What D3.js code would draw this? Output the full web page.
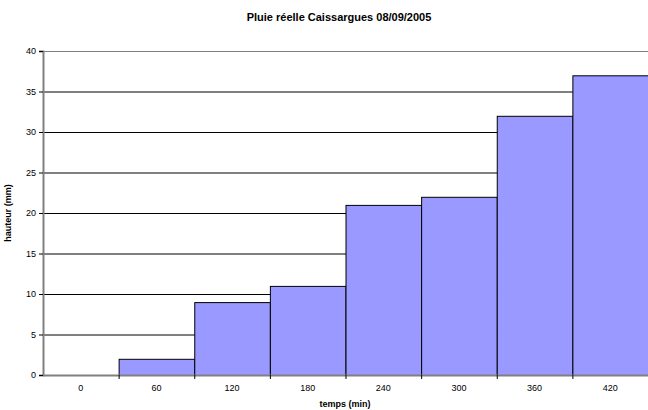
<!DOCTYPE html>
<html>
<head>
<meta charset="utf-8">
<script src="https://cdn.jsdelivr.net/npm/d3@7"></script>
<style>
  body { margin: 0; background: #fff; }
  text { font-family: "Liberation Sans", Arial, sans-serif; fill: #000; }
</style>
</head>
<body>
<svg id="chart" width="648" height="410"></svg>
<script>
// Data
const times = ["0", "60", "120", "180", "240", "300", "360", "420"];
const rain = [0, 2, 9, 11, 21, 22, 32, 37];
const yTicks = [0, 5, 10, 15, 20, 25, 30, 35, 40];

const svg = d3.select("#chart");
const plotLeft = 43, plotRight = 648, plotTop = 51, plotBottom = 375;

const x = d3.scaleBand().domain(times).range([plotLeft, plotRight]).padding(0);
const y = d3.scaleLinear().domain([0, 40]).range([plotBottom, plotTop]);

// Horizontal gridlines
svg.append("g")
    .selectAll("line")
    .data(yTicks.filter(d => d > 0))
    .join("line")
    .attr("x1", plotLeft).attr("x2", plotRight)
    .attr("y1", d => y(d) + 0.5).attr("y2", d => y(d) + 0.5)
    .attr("stroke", d => d === 40 ? "#808080" : "#000")
    .attr("stroke-width", 1);

// Bars
svg.append("g")
    .selectAll("rect")
    .data(rain.map((v, i) => ({t: times[i], v: v})).filter(d => d.v > 0))
    .join("rect")
    .attr("x", d => x(d.t) + 0.5)
    .attr("y", d => y(d.v) + 0.5)
    .attr("width", x.bandwidth())
    .attr("height", d => plotBottom - y(d.v))
    .attr("fill", "#9999FF")
    .attr("stroke", "#000")
    .attr("stroke-width", 1);

// Y axis
const yAxis = svg.append("g")
    .attr("transform", "translate(" + plotLeft + ",0)")
    .call(d3.axisLeft(y).tickValues(yTicks).tickSize(4).tickPadding(3));
yAxis.select(".domain").attr("stroke", "#808080").attr("stroke-width", 2);
yAxis.selectAll(".tick line").attr("stroke", "#000");
yAxis.selectAll(".tick text")
    .style("font-family", "Liberation Sans, Arial, sans-serif")
    .style("font-size", "9px");

// X axis (ticks on band boundaries)
const xAxis = svg.append("g")
    .attr("transform", "translate(0," + plotBottom + ")")
    .call(d3.axisBottom(x).tickSize(0).tickPadding(10));
xAxis.select(".domain").attr("stroke", "#808080").attr("stroke-width", 2);
xAxis.selectAll(".tick text")
    .style("font-family", "Liberation Sans, Arial, sans-serif")
    .style("font-size", "9px");
svg.append("g")
    .selectAll("line")
    .data(times.slice(1))
    .join("line")
    .attr("x1", d => x(d) + 0.5).attr("x2", d => x(d) + 0.5)
    .attr("y1", plotBottom).attr("y2", plotBottom + 4)
    .attr("stroke", "#000");

// Title and axis labels
svg.append("text")
    .attr("x", 339).attr("y", 21)
    .attr("text-anchor", "middle")
    .style("font-size", "11px").style("font-weight", "bold")
    .text("Pluie réelle Caissargues 08/09/2005");

svg.append("text")
    .attr("x", 345).attr("y", 407)
    .attr("text-anchor", "middle")
    .style("font-size", "9px").style("font-weight", "bold")
    .text("temps (min)");

svg.append("text")
    .attr("transform", "translate(11,213) rotate(-90)")
    .attr("text-anchor", "middle")
    .style("font-size", "9px").style("font-weight", "bold")
    .text("hauteur (mm)");
</script>
</body>
</html>
